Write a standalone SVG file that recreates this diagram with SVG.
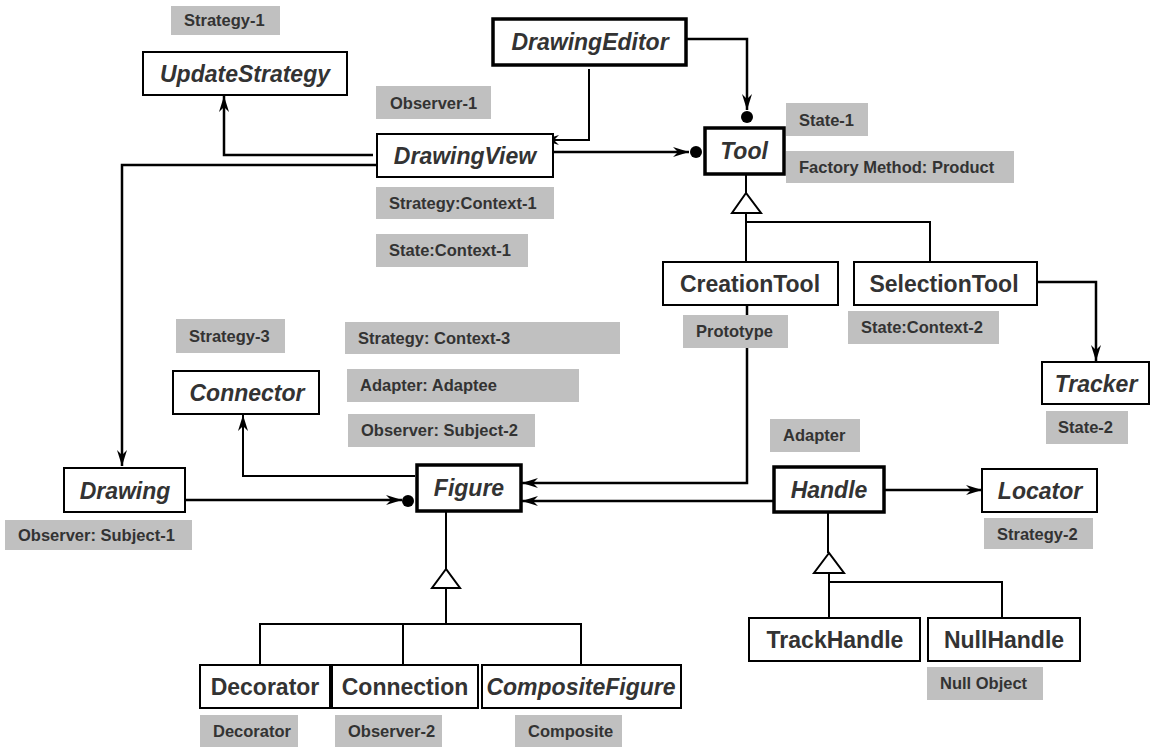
<svg xmlns="http://www.w3.org/2000/svg" width="1151" height="748" viewBox="0 0 1151 748">
<style>
.box{fill:#fff;stroke:#000;stroke-width:2}
.thick{stroke-width:3.5}
.nt{font-family:"Liberation Sans",Arial,sans-serif;font-weight:bold;font-size:23px;fill:#333;text-anchor:middle}
.it{font-style:italic}
.lb{fill:#c0c0c0}
.lt{font-family:"Liberation Sans",Arial,sans-serif;font-weight:bold;font-size:16.5px;fill:#333}
.c{fill:none;stroke:#000;stroke-width:2.5}
.g{fill:none;stroke:#000;stroke-width:2}
.tri{fill:#fff;stroke:#000;stroke-width:2}
.dot{fill:#000}
</style>
<defs>
<marker id="a" markerUnits="userSpaceOnUse" markerWidth="17" markerHeight="12" refX="16" refY="6" orient="auto">
<path d="M0,1 L16,6 L0,11 L5,6 Z" fill="#000"/>
</marker>
</defs>
<rect width="1151" height="748" fill="#fff"/>
<g id="connectors">
<polyline class="c" points="373,155 224,155 224,96" marker-end="url(#a)"/>
<polyline class="c" points="377,165 122,165 122,466" marker-end="url(#a)"/>
<polyline class="g" points="589,69 589,140 543,140" marker-end="url(#a)"/>
<polyline class="c" points="672,39 747,39 747,110" marker-end="url(#a)"/>
<circle class="dot" cx="747" cy="117" r="6"/>
<polyline class="c" points="540,152 689,152" marker-end="url(#a)"/>
<circle class="dot" cx="696" cy="152" r="6"/>
<line class="g" x1="746" y1="174" x2="746" y2="193"/>
<polygon class="tri" points="746,193 732,213 761,213"/>
<line class="g" x1="746" y1="213" x2="746" y2="262"/>
<polyline class="g" points="746,222 930,222 930,262"/>
<polyline class="c" points="1023,282 1096,282 1096,361" marker-end="url(#a)"/>
<polyline class="c" points="747,305 747,483 522,483" marker-end="url(#a)"/>
<polyline class="c" points="774,501 522,501" marker-end="url(#a)"/>
<polyline class="c" points="877,490 982,490" marker-end="url(#a)"/>
<polyline class="g" points="415,476 243,476 243,415" marker-end="url(#a)"/>
<polyline class="c" points="178,500 402,500" marker-end="url(#a)"/>
<circle class="dot" cx="408" cy="501" r="6"/>
<line class="g" x1="446" y1="511" x2="446" y2="569"/>
<polygon class="tri" points="446,569 432,588 460,588"/>
<line class="g" x1="446" y1="588" x2="446" y2="624"/>
<polyline class="g" points="260,665 260,624 581,624 581,665"/>
<line class="g" x1="403" y1="624" x2="403" y2="665"/>
<line class="g" x1="828" y1="512" x2="828" y2="553"/>
<polygon class="tri" points="829,553 814,573 844,573"/>
<line class="g" x1="829" y1="573" x2="829" y2="618"/>
<polyline class="g" points="829,582 1002,582 1002,618"/>
</g>
<g id="UpdateStrategy"><rect class="box" x="143" y="52" width="204" height="43"/><text class="nt it" x="245" y="82">UpdateStrategy</text></g>
<g id="DrawingEditor"><rect class="box thick" x="493" y="19" width="193" height="46"/><text class="nt it" x="590" y="50">DrawingEditor</text></g>
<g id="DrawingView"><rect class="box" x="377" y="134" width="176" height="43"/><text class="nt it" x="465" y="164">DrawingView</text></g>
<g id="Tool"><rect class="box thick" x="705" y="128" width="79" height="46"/><text class="nt it" x="744" y="159">Tool</text></g>
<g id="CreationTool"><rect class="box" x="663" y="262" width="175" height="43"/><text class="nt" x="750" y="292">CreationTool</text></g>
<g id="SelectionTool"><rect class="box" x="854" y="262" width="183" height="43"/><text class="nt" x="944" y="292">SelectionTool</text></g>
<g id="Tracker"><rect class="box" x="1042" y="362" width="107" height="42"/><text class="nt it" x="1096" y="392">Tracker</text></g>
<g id="Connector"><rect class="box" x="173" y="371" width="146" height="43"/><text class="nt it" x="247" y="401">Connector</text></g>
<g id="Drawing"><rect class="box" x="64" y="468" width="121" height="44"/><text class="nt it" x="125" y="499">Drawing</text></g>
<g id="Figure"><rect class="box thick" x="417" y="465" width="104" height="46"/><text class="nt it" x="469" y="496">Figure</text></g>
<g id="Handle"><rect class="box thick" x="774" y="467" width="110" height="45"/><text class="nt it" x="829" y="498">Handle</text></g>
<g id="Locator"><rect class="box" x="982" y="469" width="115" height="43"/><text class="nt it" x="1040" y="499">Locator</text></g>
<g id="TrackHandle"><rect class="box" x="749" y="618" width="171" height="43"/><text class="nt" x="835" y="648">TrackHandle</text></g>
<g id="NullHandle"><rect class="box" x="928" y="618" width="152" height="43"/><text class="nt" x="1004" y="648">NullHandle</text></g>
<g id="Decorator"><rect class="box" x="200" y="665" width="130" height="43"/><text class="nt" x="265" y="695">Decorator</text></g>
<g id="Connection"><rect class="box" x="332" y="665" width="146" height="43"/><text class="nt" x="405" y="695">Connection</text></g>
<g id="CompositeFigure"><rect class="box" x="482" y="665" width="199" height="43"/><text class="nt it" x="581" y="695">CompositeFigure</text></g>
<g id="labels">
<rect class="lb" x="171" y="6" width="109" height="29"/><text class="lt" x="184" y="26">Strategy-1</text>
<rect class="lb" x="376" y="86" width="115" height="33"/><text class="lt" x="390" y="109">Observer-1</text>
<rect class="lb" x="786" y="103" width="82" height="33"/><text class="lt" x="799" y="126">State-1</text>
<rect class="lb" x="786" y="151" width="228" height="32"/><text class="lt" x="799" y="173">Factory Method: Product</text>
<rect class="lb" x="376" y="187" width="178" height="32"/><text class="lt" x="389" y="209">Strategy:Context-1</text>
<rect class="lb" x="376" y="234" width="152" height="33"/><text class="lt" x="389" y="256">State:Context-1</text>
<rect class="lb" x="176" y="319" width="109" height="34"/><text class="lt" x="189" y="342">Strategy-3</text>
<rect class="lb" x="345" y="322" width="275" height="32"/><text class="lt" x="358" y="344">Strategy: Context-3</text>
<rect class="lb" x="683" y="315" width="105" height="33"/><text class="lt" x="696" y="337">Prototype</text>
<rect class="lb" x="848" y="311" width="151" height="33"/><text class="lt" x="861" y="333">State:Context-2</text>
<rect class="lb" x="347" y="369" width="232" height="33"/><text class="lt" x="360" y="391">Adapter: Adaptee</text>
<rect class="lb" x="348" y="414" width="187" height="33"/><text class="lt" x="361" y="436">Observer: Subject-2</text>
<rect class="lb" x="770" y="419" width="90" height="33"/><text class="lt" x="783" y="441">Adapter</text>
<rect class="lb" x="1046" y="411" width="82" height="33"/><text class="lt" x="1058" y="433">State-2</text>
<rect class="lb" x="5" y="520" width="187" height="30"/><text class="lt" x="18" y="541">Observer: Subject-1</text>
<rect class="lb" x="984" y="518" width="109" height="31"/><text class="lt" x="997" y="540">Strategy-2</text>
<rect class="lb" x="927" y="667" width="116" height="33"/><text class="lt" x="940" y="689">Null Object</text>
<rect class="lb" x="200" y="715" width="98" height="32"/><text class="lt" x="213" y="737">Decorator</text>
<rect class="lb" x="335" y="715" width="107" height="32"/><text class="lt" x="348" y="737">Observer-2</text>
<rect class="lb" x="515" y="715" width="107" height="32"/><text class="lt" x="528" y="737">Composite</text>
</g>
</svg>
